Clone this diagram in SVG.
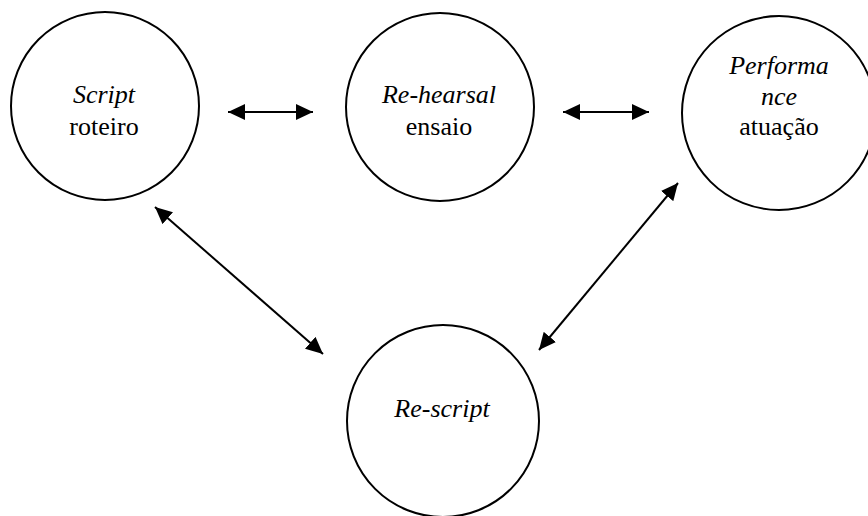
<svg xmlns="http://www.w3.org/2000/svg" width="868" height="516" viewBox="0 0 868 516">
<style>
.node{fill:#fff;stroke:#000;stroke-width:2}
.t{font-family:"Liberation Serif","Times New Roman",serif;font-size:26px;fill:#000;text-anchor:middle}
.i{font-style:italic}
.c{stroke:#000;stroke-width:2;fill:none;marker-start:url(#ah);marker-end:url(#ah)}
</style>
<defs>
<marker id="ah" markerUnits="userSpaceOnUse" markerWidth="18" markerHeight="16" viewBox="0 0 18 16" refX="17" refY="8" orient="auto-start-reverse">
<path d="M0,0 L17,8 L0,16 Z" fill="#000"/>
</marker>
</defs>
<rect width="868" height="516" fill="#fff"/>
<g id="script">
<circle class="node" cx="105" cy="106" r="94"/>
<text class="t i" x="104" y="103">Script</text>
<text class="t" x="104" y="135">roteiro</text>
</g>
<g id="rehearsal">
<circle class="node" cx="440" cy="107" r="94"/>
<text class="t i" x="439" y="103">Re-hearsal</text>
<text class="t" x="439" y="135">ensaio</text>
</g>
<g id="performance">
<circle class="node" cx="779" cy="113" r="97"/>
<text class="t i" x="779" y="74">Performa</text>
<text class="t i" x="779" y="105">nce</text>
<text class="t" x="779" y="135">atuação</text>
</g>
<g id="rescript">
<circle class="node" cx="443" cy="421" r="96"/>
<text class="t i" x="442" y="417">Re-script</text>
</g>
<g id="connectors">
<line class="c" x1="228" y1="112" x2="313" y2="112"/>
<line class="c" x1="563" y1="112" x2="649" y2="112"/>
<line class="c" x1="155" y1="207" x2="323" y2="354"/>
<line class="c" x1="678" y1="183" x2="539" y2="350"/>
</g>
</svg>
